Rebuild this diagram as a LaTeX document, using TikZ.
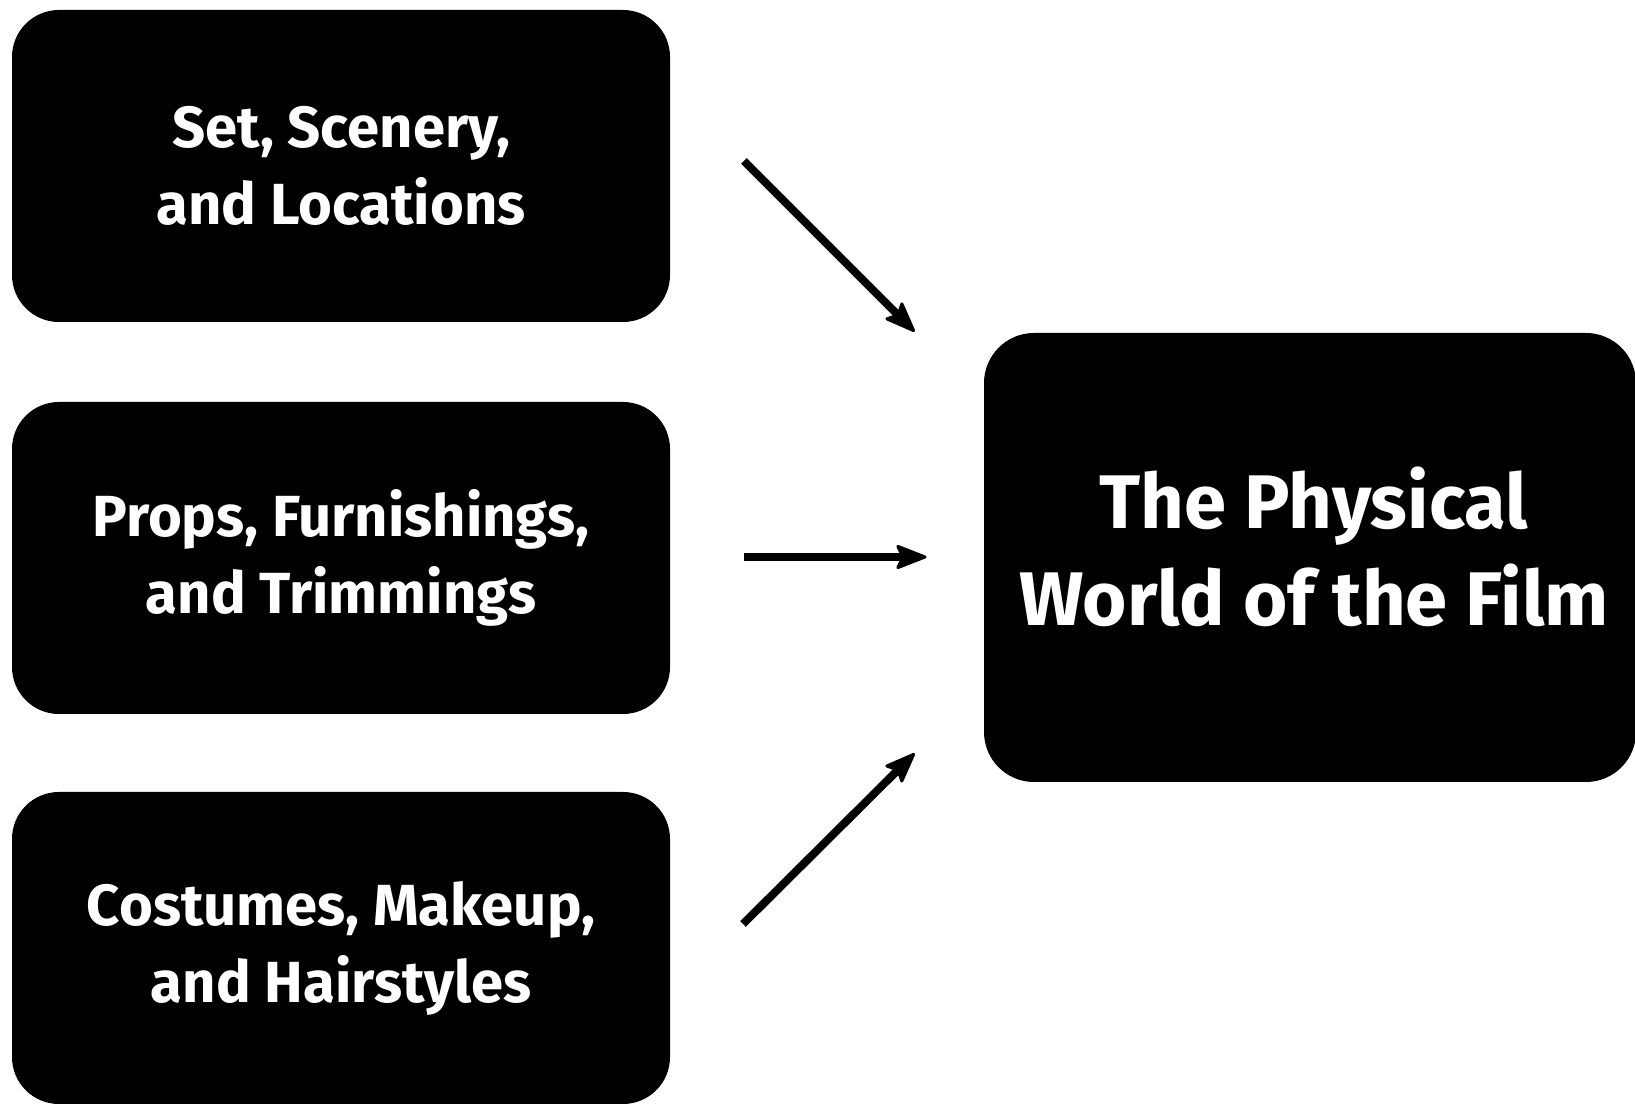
\documentclass[tikz,border=0pt]{standalone}
\usepackage{fontspec}
\setmainfont{Fira Sans}
\usetikzlibrary{calc}
\tikzset{
  srcbox/.style={fill=black, rounded corners=47pt, minimum width=658pt, minimum height=312pt,
    text=white, align=center, inner sep=0pt, font=\bfseries\fontsize{58}{77}\selectfont},
  dstbox/.style={fill=black, rounded corners=50pt, minimum width=652pt, minimum height=449pt,
    text=white, align=center, inner sep=0pt},
  dsttext/.style={text=white, align=center, inner sep=0pt, font=\bfseries\fontsize{76}{97}\selectfont},
  shaft/.style={draw=black, line width=8pt},
  head/.style={fill=black, draw=black, line width=3pt, line join=round}
}
\newcommand{\flowarrow}[2]{%
  \draw[shaft] (#1) -- ($(#2)!22pt!(#1)$);
  \filldraw[head] ($(#2)!2pt!(#1)$) -- ($(#2)!31pt!20:(#1)$) -- ($(#2)!24pt!(#1)$) -- ($(#2)!31pt!-20:(#1)$) -- cycle;
}
\begin{document}
\begin{tikzpicture}[x=1pt, y=1pt]
\useasboundingbox (0,0) rectangle (1635,1103);
\begin{scope}
\clip (0,0) rectangle (1635,1103);
\node[srcbox] (set) at (341,937) {Set, Scenery,\\and Locations};
\node[srcbox] (props) at (341,545) {Props, Furnishings,\\and Trimmings};
\node[srcbox] (cost) at (341,155) {Costumes, Makeup,\\and Hairstyles};
\node[dstbox] (world) at (1310,545.5) {};
\node[dsttext] (worldtext) at (1314,556) {The Physical\\World of the Film};
\end{scope}
\coordinate (a1s) at (744,942);
\coordinate (a1e) at (915,771);
\coordinate (a2s) at (744,546);
\coordinate (a2e) at (927,546);
\coordinate (a3s) at (743,179);
\coordinate (a3e) at (915,350);
\flowarrow{a1s}{a1e}
\flowarrow{a2s}{a2e}
\flowarrow{a3s}{a3e}
\end{tikzpicture}
\end{document}
